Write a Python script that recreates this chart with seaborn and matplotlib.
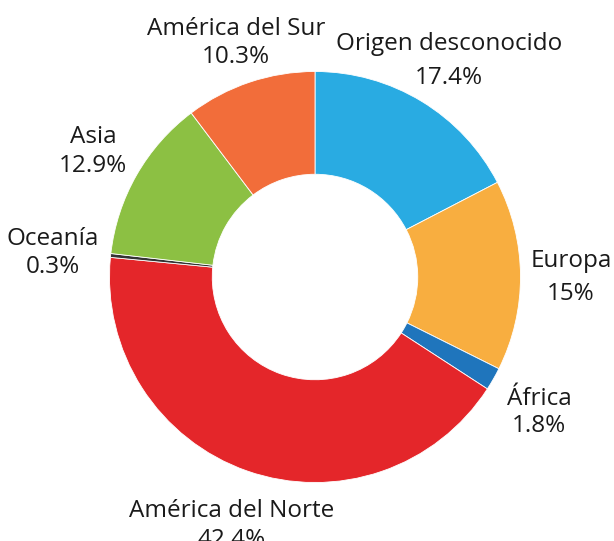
import matplotlib
matplotlib.use("Agg")
import matplotlib.pyplot as plt
import seaborn as sns

# Data (clockwise from 12 o'clock)
regions = ["Origen desconocido", "Europa", "África", "América del Norte",
           "Oceanía", "Asia", "América del Sur"]
shares = [17.4, 15.0, 1.8, 42.4, 0.3, 12.9, 10.3]
share_labels = ["17.4%", "15%", "1.8%", "42.4%", "0.3%", "12.9%", "10.3%"]
colors = ["#29ABE2", "#F8AE40", "#1F75BC", "#E4262A", "#333333", "#8CC043", "#F26D3A"]

# label layout in pixels: centre x, baseline of name, baseline of share
label_pos = [(449, 50, 84), (571, 267, 300), (539, 405, 432), (232, 517, 546),
             (53, 245, 273), (93, 143, 172), (236, 35, 63)]

sns.set_theme(style="white")
plt.rcParams["font.family"] = ["Open Sans", "DejaVu Sans"]

W, H = 614, 541
fig = plt.figure(figsize=(W / 100, H / 100), dpi=100)
cx, cy, r = 315, 277, 205.5
ax = fig.add_axes([(cx - r) / W, (H - cy - r) / H, 2 * r / W, 2 * r / H])

ax.pie(shares, colors=colors, startangle=90, counterclock=False, radius=1,
       wedgeprops=dict(width=0.5, edgecolor="white", linewidth=0.6))
ax.set_xlim(-1, 1)
ax.set_ylim(-1, 1)
ax.set_aspect("equal")
ax.axis("off")

for name, lab, (px, b1, b2) in zip(regions, share_labels, label_pos):
    for txt, b in ((name, b1), (lab, b2)):
        fig.text(px / W, 1 - b / H, txt, ha="center", va="baseline",
                 fontsize=17.5, color="#1a1a1a")

fig.savefig("out.png", dpi=100)
